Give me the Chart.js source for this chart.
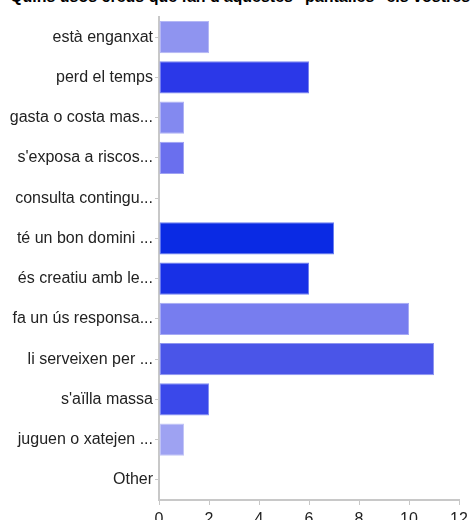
<!DOCTYPE html>
<html>
<head>
<meta charset="utf-8">
<script src="https://cdn.jsdelivr.net/npm/chart.js@4"></script>
<style>
html, body { margin: 0; padding: 0; background: #fff; }
#wrap { position: relative; width: 470px; height: 520px; overflow: hidden; }
#title { position: absolute; left: 10px; top: -12px; white-space: nowrap; line-height: 18px;
  font: bold 16px "Liberation Sans", Arial, sans-serif; color: #000; }
#c { position: absolute; left: 0; top: 0; }
</style>
</head>
<body>
<div id="wrap">
<div id="title">Quins usos creus que fan d'aquestes "pantalles" els vostres fills?</div>
<canvas id="c" width="470" height="520"></canvas>
</div>
<script>
// categories and counts
const categories = [
  "està enganxat",
  "perd el temps",
  "gasta o costa mas...",
  "s'exposa a riscos...",
  "consulta contingu...",
  "té un bon domini ...",
  "és creatiu amb le...",
  "fa un ús responsa...",
  "li serveixen per ...",
  "s'aïlla massa",
  "juguen o xatejen ...",
  "Other"
];
const counts = [2, 6, 1, 1, 0, 7, 6, 10, 11, 2, 1, 0];
const xTicks = [0, 2, 4, 6, 8, 10, 12];

const barColors = ["#8f94f0", "#2b38e8", "#8389f0", "#6a6fee", "#6a6fee", "#0a2ae4",
  "#1830e6", "#777def", "#4a55e8", "#3a48ea", "#9ea2f2", "#9ea2f2"];
const edgeColors = ["#b4b7f5", "#7a83f0", "#aeb2f5", "#9fa2f3", "#9fa2f3", "#6a7ff0",
  "#7080f0", "#a6aaf4", "#8e95f0", "#8590f2", "#c2c5f7", "#c2c5f7"];

const tickFont = { family: "Liberation Sans", size: 16 };

new Chart(document.getElementById("c"), {
  type: "bar",
  data: {
    labels: categories,
    datasets: [{
      data: counts,
      backgroundColor: barColors,
      borderColor: edgeColors,
      borderWidth: 1,
      borderSkipped: false,
      barPercentage: 0.8,
      categoryPercentage: 1
    }]
  },
  options: {
    indexAxis: "y",
    responsive: false,
    animation: false,
    layout: { padding: { top: 17, right: 11, left: 0, bottom: 0 } },
    plugins: { legend: { display: false }, tooltip: { enabled: false } },
    scales: {
      x: {
        min: 0, max: 12,
        afterBuildTicks: s => { s.ticks = xTicks.map(v => ({ value: v })); },
        afterFit: s => { s.height = 20; s.paddingRight = 0; },
        grid: { drawOnChartArea: false, color: "#c8c8c8", tickLength: 5 },
        border: { color: "#c8c8c8", width: 2 },
        ticks: { color: "#222", font: tickFont, padding: 5, maxRotation: 0 }
      },
      y: {
        afterFit: s => { s.width = 159; },
        grid: { drawOnChartArea: false, offset: false, color: "#c8c8c8", tickLength: 4 },
        border: { color: "#c8c8c8", width: 2 },
        ticks: { color: "#222", font: tickFont, padding: 2 }
      }
    }
  }
});
</script>
</body>
</html>
